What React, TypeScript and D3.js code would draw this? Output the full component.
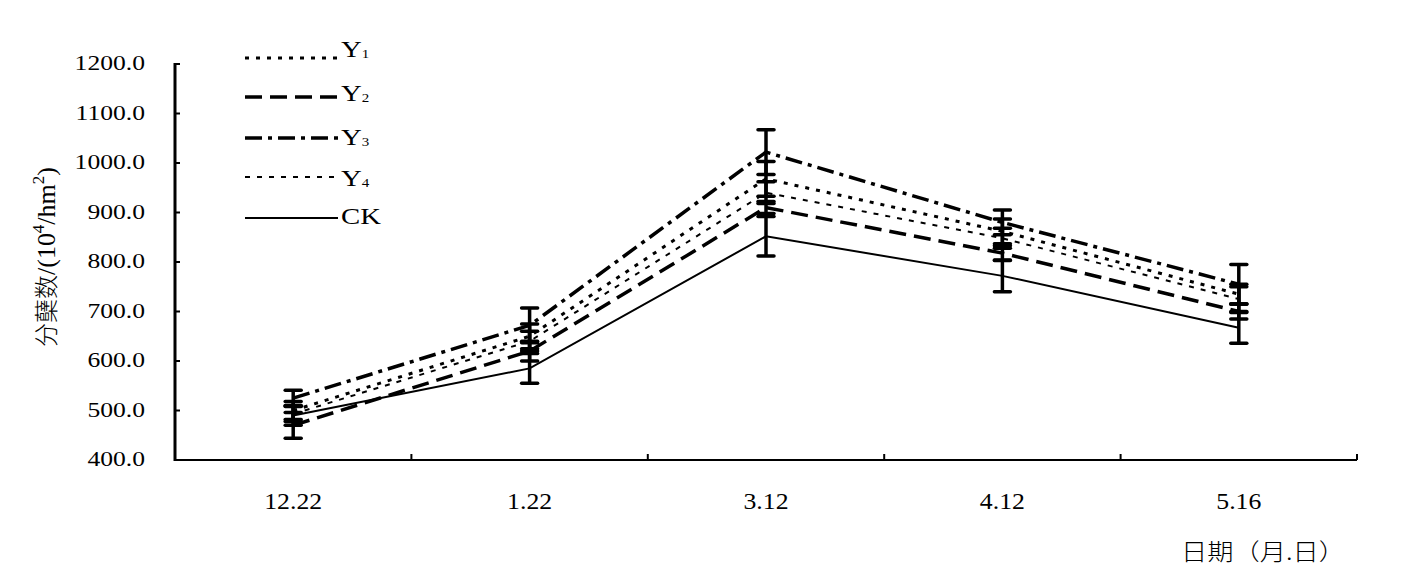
import React from "react";
import * as d3 from "d3";

const categories = ["12.22", "1.22", "3.12", "4.12", "5.16"];
const yTicks = [400, 500, 600, 700, 800, 900, 1000, 1100, 1200];

const seriesNames = ["Y1", "Y2", "Y3", "Y4", "CK"];
const y1Values = [500, 650, 968, 862, 735];
const y2Values = [470, 620, 910, 818, 700];
const y3Values = [525, 672, 1022, 880, 755];
const y4Values = [493, 640, 940, 848, 725];
const ckValues = [490, 585, 852, 772, 667];

const y1Err = [18, 25, 35, 25, 20];
const y2Err = [26, 20, 12, 15, 15];
const y3Err = [16, 35, 45, 25, 40];
const y4Err = [15, 20, 22, 20, 25];
const ckErr = [20, 30, 40, 32, 31];

const W = 1422;
const H = 584;
const left = 175;
const right = 1357;
const top = 64;
const bottom = 460;

const serif = "'Liberation Serif', 'Times New Roman', serif";
const cjk = "'Noto Sans CJK SC', sans-serif";

const styles: Record<string, { dash: string; width: number }> = {
  Y1: { dash: "4,7", width: 3 },
  Y2: { dash: "17,8", width: 3.5 },
  Y3: { dash: "17,6,4,6", width: 3.5 },
  Y4: { dash: "5,7", width: 2 },
  CK: { dash: "", width: 2 },
};

function SText(props: {
  x: number;
  y: number;
  sx: number;
  size: number;
  anchor?: string;
  family?: string;
  children: React.ReactNode;
}) {
  return (
    <text
      transform={`translate(${props.x},${props.y}) scale(${props.sx},1)`}
      textAnchor={props.anchor || "start"}
      fontFamily={props.family || serif}
      fontSize={props.size}
      fill="#000"
    >
      {props.children}
    </text>
  );
}

export default function App() {
  const x = d3.scaleBand<string>().domain(categories).range([left, right]);
  const y = d3.scaleLinear().domain([400, 1200]).range([bottom, top]);
  const cx = (c: string) => (x(c) as number) + x.bandwidth() / 2;

  const series = [
    { name: "Y1", values: y1Values, err: y1Err },
    { name: "Y2", values: y2Values, err: y2Err },
    { name: "Y3", values: y3Values, err: y3Err },
    { name: "Y4", values: y4Values, err: y4Err },
    { name: "CK", values: ckValues, err: ckErr },
  ];

  const line = d3
    .line<number>()
    .x((_, i) => cx(categories[i]))
    .y((d) => y(d));

  const legendLineY = [58, 97, 138, 177, 218];
  const legendTextY = [57, 101, 145, 186, 224];

  return (
    <svg
      width={W}
      height={H}
      style={{ position: "absolute", left: 0, top: 0, background: "#fff" }}
    >
      {/* lines */}
      {series.map((s) => (
        <path
          key={s.name}
          d={line(s.values) as string}
          fill="none"
          stroke="#000"
          strokeWidth={styles[s.name].width}
          strokeDasharray={styles[s.name].dash || undefined}
        />
      ))}
      {/* error bars */}
      {series.map((s) =>
        s.values.map((v, i) => {
          const px = cx(categories[i]);
          const y0 = y(v - s.err[i]);
          const y1 = y(v + s.err[i]);
          return (
            <g key={s.name + i} stroke="#000">
              <line x1={px} x2={px} y1={y0} y2={y1} strokeWidth={3.5} />
              <line x1={px - 8} x2={px + 8} y1={y0} y2={y0} strokeWidth={3.5} strokeLinecap="round" />
              <line x1={px - 8} x2={px + 8} y1={y1} y2={y1} strokeWidth={3.5} strokeLinecap="round" />
            </g>
          );
        })
      )}
      {/* axes */}
      <line x1={left} x2={left} y1={top - 1} y2={bottom + 1} stroke="#000" strokeWidth={3} />
      <line x1={left} x2={right} y1={bottom} y2={bottom} stroke="#000" strokeWidth={2} />
      {yTicks.map((t) => (
        <g key={t}>
          <line x1={left} x2={left + 5} y1={y(t)} y2={y(t)} stroke="#000" strokeWidth={2} />
          <SText x={145} y={y(t) + 6} sx={1.22} size={21} anchor="end">
            {t.toFixed(1)}
          </SText>
        </g>
      ))}
      {categories.map((c) => {
        const bx = (x(c) as number) + x.bandwidth();
        return (
          <g key={c}>
            <line x1={bx} x2={bx} y1={bottom} y2={bottom - 6} stroke="#000" strokeWidth={2} />
            <SText x={cx(c)} y={509} sx={1.12} size={23} anchor="middle">
              {c}
            </SText>
          </g>
        );
      })}
      {/* axis titles */}
      <text
        transform={`translate(55,${257}) rotate(-90)`}
        textAnchor="middle"
        fontSize={26}
        fill="#000"
        fontFamily={serif}
      >
        <tspan fontFamily={cjk} fontWeight={300} fontSize={24}>分蘖数</tspan>
        <tspan>/(10</tspan>
        <tspan fontSize={17} dy={-11}>4</tspan>
        <tspan dy={11}>/hm</tspan>
        <tspan fontSize={17} dy={-11}>2</tspan>
        <tspan dy={11}>)</tspan>
      </text>
      <text
        x={1181}
        y={560}
        fontFamily={cjk}
        fontWeight={300}
        fontSize={23}
        fill="#000"
        textLength={164}
        lengthAdjust="spacingAndGlyphs"
      >
        日期（月.日）
      </text>
      {/* legend */}
      {seriesNames.map((n, i) => (
        <g key={n}>
          <line
            x1={245}
            x2={338}
            y1={legendLineY[i]}
            y2={legendLineY[i]}
            stroke="#000"
            strokeWidth={styles[n].width}
            strokeDasharray={styles[n].dash || undefined}
          />
          <SText x={341} y={legendTextY[i]} sx={1.25} size={23}>
            {n === "CK" ? (
              "CK"
            ) : (
              <>
                <tspan>Y</tspan>
                <tspan fontSize={12} dy={1}>{n.slice(1)}</tspan>
              </>
            )}
          </SText>
        </g>
      ))}
    </svg>
  );
}
